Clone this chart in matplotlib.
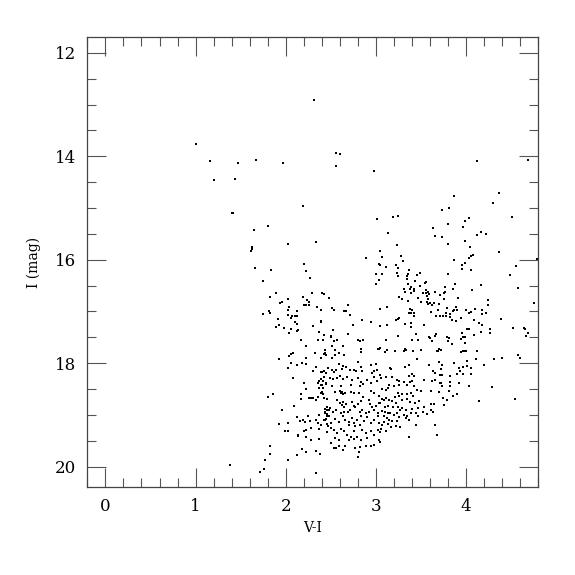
#!/usr/bin/env python

import numpy as np
import matplotlib
matplotlib.use('Agg')
import matplotlib.pyplot as plt
from matplotlib.ticker import MultipleLocator

# (V-I, I), grouped by region
bright = [
	(2.31,12.92),(1.01,13.76),(1.16,14.10),(1.47,14.12),(1.67,14.07),(1.97,14.13),(1.20,14.45),
	(1.44,14.43),(2.19,14.97),(1.40,15.09),(1.41,15.10),(1.80,15.34),(1.65,15.42),(2.03,15.69),
	(1.63,15.75),(1.63,15.79),(1.61,15.84),
	(2.56,13.94),(2.60,13.95),(2.56,14.19),(2.98,14.28),(3.01,15.21),(3.19,15.18),(3.24,15.16),
	(3.13,15.48),(2.34,15.65),(3.23,15.72),(3.04,15.83),(2.89,15.96),(3.07,15.94),(3.28,15.92),
	(4.12,14.09),(4.69,14.07),(4.37,14.70),(3.87,14.77),(4.30,14.91),(3.73,15.03),(3.81,15.00),
	(4.03,15.19),(3.99,15.25),(4.51,15.17),(3.80,15.30),(3.63,15.39),(3.97,15.36),(3.66,15.54),
	(3.73,15.56),(4.12,15.52),(4.17,15.47),(4.22,15.50),(3.99,15.64),(3.80,15.69),(4.04,15.75),
	(4.36,15.85),(4.05,15.92),(4.08,15.90),(4.03,15.97),(3.87,16.00),(4.79,15.98),
]

mid_left = [
	(1.66,16.16),(1.84,16.20),(1.75,16.42),(2.20,16.08),(2.22,16.21),(2.27,16.35),(1.89,16.65),
	(1.83,16.72),(1.96,16.81),(1.94,16.83),(2.03,16.76),(2.19,16.72),(2.29,16.65),(2.40,16.65),
	(2.42,16.66),(2.48,16.74),(2.24,16.78),(2.26,16.81),(2.20,16.88),(2.22,16.87),(2.26,16.87),
	(2.04,16.92),(2.03,16.97),(2.13,16.99),(1.81,16.99),(1.83,17.03),(1.75,17.04),(2.03,17.06),
	(2.07,17.09),(2.10,17.08),(2.12,17.08),(2.06,17.12),(2.35,16.91),(2.39,16.98),(2.51,16.94),
	(2.53,16.98),(1.91,17.15),(2.10,17.20),(2.13,17.24),(2.39,17.18),(2.39,17.20),(1.93,17.27),
	(1.89,17.30),(1.98,17.32),(2.06,17.34),(2.14,17.36),(2.13,17.37),(2.30,17.28),(2.52,17.36),
	(2.04,17.42),(2.37,17.40),(2.42,17.45),(2.50,17.48),(2.50,17.50),(2.17,17.55),(2.36,17.55),
	(2.41,17.56),(2.57,17.55),(2.53,17.58),(2.22,17.66),(2.51,17.67),(2.44,17.74),(2.55,17.74),
	(2.08,17.80),(2.06,17.82),(2.32,17.81),(2.42,17.83),(2.45,17.85),(2.44,17.81),(2.59,17.81),
	(2.55,17.85),(2.04,17.87),(1.93,17.92),(2.23,17.90),(2.39,17.90),(2.51,17.89),
]

mid_centre = [
	(3.30,16.03),(3.03,16.08),(3.05,16.11),(3.11,16.14),(3.22,16.10),(3.24,16.16),(3.37,16.19),
	(3.49,16.25),(3.46,16.30),(3.00,16.27),(3.07,16.27),(3.23,16.26),(3.24,16.32),(3.34,16.32),
	(3.36,16.28),(3.34,16.37),(3.43,16.41),(3.03,16.39),(3.00,16.47),(3.54,16.45),(3.56,16.43),
	(3.36,16.46),(3.49,16.50),(3.39,16.53),(3.42,16.56),(3.31,16.57),(3.32,16.62),(3.38,16.57),
	(3.42,16.60),(3.56,16.58),(3.58,16.62),(3.59,16.66),(3.56,16.64),(3.39,16.64),(3.52,16.64),
	(3.57,16.71),(3.58,16.76),(3.57,16.81),(3.58,16.86),(3.60,16.83),(3.26,16.72),(3.29,16.76),
	(3.47,16.74),(3.50,16.81),(3.36,16.80),(3.61,17.01),(2.69,16.88),(2.65,16.99),(2.67,17.00),
	(2.71,17.07),(3.04,16.96),(3.12,16.92),(3.38,16.95),(3.40,16.98),(3.39,17.02),(3.37,17.03),
	(3.42,17.03),(3.42,17.08),(3.26,17.12),(3.24,17.14),(3.22,17.16),(2.85,17.16),(2.94,17.21),
	(2.75,17.26),(3.04,17.28),(3.12,17.26),(3.32,17.24),(3.39,17.23),(3.39,17.30),(3.53,17.27),
	(2.69,17.44),(3.44,17.43),(3.59,17.49),(3.60,17.52),(3.24,17.47),(2.80,17.55),(2.82,17.58),
	(2.86,17.55),(3.11,17.56),(3.40,17.56),(3.47,17.56),(2.64,17.66),(2.84,17.73),(2.83,17.78),
	(3.03,17.72),(3.04,17.70),(3.02,17.73),(3.12,17.74),(3.10,17.79),(3.21,17.77),(3.32,17.73),
	(3.33,17.74),(3.31,17.77),(3.41,17.76),(3.50,17.74),(2.65,17.84),(3.46,17.91),
]

mid_right = [
	(3.99,16.07),(3.95,16.11),(3.96,16.17),(4.05,16.19),(4.06,16.19),(4.55,16.12),(3.80,16.28),
	(4.49,16.30),(4.17,16.48),(3.88,16.47),(3.86,16.56),(3.77,16.52),(3.77,16.63),(3.75,16.65),
	(3.65,16.62),(3.71,16.69),(4.58,16.54),(4.07,16.59),(3.91,16.73),(3.76,16.76),(3.64,16.83),
	(3.62,16.87),(3.70,16.86),(4.24,16.78),(4.24,16.87),(4.75,16.84),(3.89,16.92),(3.87,16.97),
	(3.90,16.97),(3.85,16.99),(3.79,16.94),(3.78,17.03),(3.82,17.05),(3.69,16.98),(4.00,16.97),
	(4.05,17.01),(4.03,17.03),(4.10,16.95),(4.18,16.98),(4.22,17.02),(4.18,17.05),(3.67,17.08),
	(3.71,17.08),(3.74,17.08),(3.78,17.08),(3.82,17.10),(3.84,17.17),(3.94,17.13),(3.89,17.19),
	(4.09,17.17),(4.14,17.23),(4.18,17.26),(4.39,17.14),(4.27,17.34),(4.27,17.42),(4.17,17.39),
	(4.01,17.33),(4.03,17.34),(3.96,17.41),(4.09,17.45),(3.97,17.50),(3.99,17.50),(3.67,17.44),
	(3.66,17.47),(3.79,17.49),(3.81,17.52),(3.80,17.57),(3.84,17.63),(3.94,17.54),(3.99,17.61),
	(3.62,17.57),(4.52,17.32),(4.64,17.32),(4.65,17.33),(4.69,17.42),(4.66,17.47),(3.70,17.72),
	(3.72,17.74),(3.68,17.76),(3.69,17.77),(3.99,17.76),(4.00,17.76),(3.97,17.76),(3.94,17.79),
	(4.12,17.77),(4.11,17.91),(4.31,17.91),(4.40,17.89),(4.58,17.84),(4.60,17.90),
]

faint_left = [
	(2.06,18.00),(2.02,18.09),(2.13,18.03),(2.18,18.00),(2.23,18.02),(2.33,18.08),(2.30,18.15),
	(2.39,18.17),(2.40,18.17),(2.47,18.10),(2.08,18.29),(2.39,18.30),(2.37,18.34),(2.41,18.35),
	(2.36,18.39),(2.39,18.42),(2.20,18.39),(2.45,18.39),(2.37,18.48),(2.41,18.48),(2.22,18.50),
	(1.86,18.59),(1.80,18.65),(2.17,18.59),(2.17,18.69),(2.39,18.57),(2.41,18.59),(2.26,18.68),
	(2.28,18.68),(2.30,18.67),(2.36,18.66),(2.34,18.72),(2.46,18.69),(2.09,18.83),(2.49,18.86),
	(2.44,18.88),(2.43,18.94),(2.46,18.91),(1.96,18.90),(2.37,19.01),(2.46,18.99),(2.48,19.02),
	(2.12,19.04),(2.25,19.03),(2.16,19.11),(2.19,19.10),(2.21,19.13),(2.27,19.12),(2.34,19.10),
	(2.36,19.15),(2.44,19.10),(2.45,19.08),(2.03,19.16),(1.93,19.17),(2.39,19.19),(2.46,19.17),
	(2.47,19.21),(2.28,19.26),(2.23,19.29),(2.37,19.27),(1.99,19.32),(2.03,19.32),(2.20,19.32),
	(2.46,19.34),(2.14,19.39),(2.14,19.41),(2.23,19.43),(2.28,19.48),(2.37,19.46),(2.18,19.66),
	(2.22,19.71),(2.34,19.70),(2.38,19.76),(2.12,19.78),(1.82,19.61),(1.82,19.76),(1.77,19.87),
	(2.03,19.88),(1.76,20.04),(1.71,20.11),(2.34,20.12),(1.38,19.97),
]

faint_centre = [
	(2.59,18.01),(2.63,18.06),(2.80,17.98),(2.83,18.07),(2.94,18.03),(3.00,18.01),(2.42,18.16),
	(2.45,18.19),(2.51,18.13),(2.53,18.17),(2.56,18.14),(2.62,18.12),(2.67,18.08),(2.71,18.13),
	(2.76,18.14),(2.78,18.15),(2.85,18.15),(2.96,18.19),(2.98,18.16),(3.01,18.14),(3.04,18.23),
	(2.42,18.26),(2.49,18.29),(2.52,18.31),(2.57,18.29),(2.60,18.24),(2.63,18.31),(2.68,18.26),
	(2.73,18.32),(2.80,18.29),(2.83,18.37),(2.90,18.32),(2.98,18.27),(3.01,18.35),(2.40,18.42),
	(2.45,18.40),(2.51,18.45),(2.61,18.44),(2.72,18.42),(2.82,18.44),(2.86,18.40),(2.94,18.39),
	(2.40,18.55),(2.55,18.56),(2.60,18.53),(2.61,18.58),(2.62,18.55),(2.64,18.59),(2.66,18.57),
	(2.72,18.55),(2.76,18.58),(2.81,18.58),(2.86,18.66),(2.94,18.53),(2.98,18.58),(3.03,18.64),
	(2.42,18.68),(2.57,18.72),(2.60,18.77),(2.62,18.81),(2.63,18.76),(2.65,18.84),(2.67,18.79),
	(2.74,18.76),(2.76,18.83),(2.77,18.84),(2.80,18.79),(2.83,18.74),(2.92,18.72),(2.93,18.79),
	(2.96,18.84),(3.00,18.82),(3.03,18.77),(2.46,18.84),(2.48,18.90),(2.44,18.97),(2.52,18.95),
	(2.56,18.90),(2.71,18.90),(2.61,18.97),(2.65,18.95),(2.69,18.95),(2.82,18.94),(2.85,18.90),
	(2.89,18.97),(2.92,18.94),(2.98,18.90),(3.02,18.97),(2.42,19.10),(2.46,19.03),(2.50,19.16),
	(2.55,19.08),(2.59,19.13),(2.63,19.03),(2.66,19.10),(2.70,19.13),(2.74,19.06),(2.76,19.16),
	(2.79,19.10),(2.84,19.03),(2.87,19.12),(2.90,19.05),(2.94,19.15),(2.98,19.10),(3.02,19.03),
	(3.03,19.16),(2.70,19.19),(2.77,19.22),(2.82,19.19),(2.50,19.26),(2.53,19.29),(2.57,19.35),
	(2.61,19.28),(2.65,19.32),(2.68,19.39),(2.72,19.42),(2.76,19.32),(2.79,19.42),(2.85,19.29),
	(2.89,19.35),(2.90,19.45),(2.94,19.32),(2.98,19.39),(3.02,19.29),(2.55,19.45),(2.59,19.48),
	(2.70,19.48),(2.76,19.47),(2.83,19.48),(2.53,19.64),(2.56,19.64),(2.59,19.60),(2.66,19.60),
	(2.77,19.64),(2.82,19.63),(2.81,19.71),(2.80,19.81),(2.89,19.61),(2.94,19.61),(2.98,19.58),
	(2.50,19.55),(2.63,19.68),(3.03,19.48),
]

faint_right = [
	(3.16,18.10),(3.17,18.11),(3.32,18.08),(3.37,18.03),(3.59,18.03),(3.70,17.97),(3.63,18.16),
	(3.66,18.19),(3.71,18.23),(3.40,18.21),(3.37,18.24),(3.42,18.24),(3.11,18.26),(3.06,18.29),
	(3.18,18.27),(3.23,18.32),(3.26,18.34),(3.31,18.37),(3.38,18.37),(3.40,18.34),(3.53,18.32),
	(3.62,18.34),(3.66,18.32),(3.71,18.39),(3.15,18.42),(3.20,18.44),(3.26,18.42),(3.34,18.43),
	(3.42,18.45),(3.46,18.52),(3.50,18.53),(3.07,18.50),(3.11,18.52),(3.13,18.48),(3.61,18.53),
	(3.70,18.55),(3.24,18.58),(3.29,18.59),(3.34,18.59),(3.39,18.57),(3.41,18.63),(3.21,18.66),
	(3.26,18.64),(3.29,18.71),(3.07,18.69),(3.09,18.71),(3.11,18.68),(3.14,18.71),(3.18,18.74),
	(3.22,18.77),(3.35,18.70),(3.38,18.76),(3.43,18.77),(3.48,18.74),(3.53,18.84),(3.61,18.79),
	(3.64,18.79),(3.05,18.77),(3.10,18.84),(3.13,18.83),(3.19,18.84),(3.24,18.85),(3.27,18.90),
	(3.29,18.87),(3.33,18.90),(3.40,18.89),(3.47,18.87),(3.52,18.94),(3.61,18.90),(3.63,18.95),
	(3.07,18.92),(3.10,18.94),(3.13,18.97),(3.16,18.97),(3.20,19.00),(3.23,18.97),(3.26,19.04),
	(3.31,19.00),(3.34,19.03),(3.39,18.97),(3.45,18.97),(3.47,19.02),(3.57,18.98),(3.09,19.03),
	(3.12,19.06),(3.14,19.10),(3.18,19.11),(3.23,19.11),(3.33,19.06),(3.37,19.10),(3.09,19.13),
	(3.07,19.19),(3.13,19.18),(3.17,19.23),(3.22,19.21),(3.27,19.23),(3.45,19.19),(3.66,19.19),
	(3.11,19.32),(3.06,19.28),(3.05,19.34),(3.37,19.42),(3.68,19.39),(3.05,19.52),
	(3.73,18.03),(3.72,18.12),(3.73,18.23),(3.87,17.99),(3.92,18.10),(3.93,18.15),(3.97,18.08),
	(4.01,18.06),(4.06,18.09),(4.01,17.96),(3.97,18.21),(3.90,18.21),(4.05,18.21),(4.20,18.03),
	(3.82,18.24),(3.82,18.37),(3.92,18.39),(3.72,18.39),(3.73,18.45),(3.82,18.45),(4.03,18.45),
	(4.29,18.46),(3.81,18.53),(3.90,18.59),(3.85,18.63),(3.74,18.68),(3.79,18.72),(3.75,18.81),
	(4.14,18.74),(4.54,18.70),
]

groups = [bright, mid_left, mid_centre, mid_right, faint_left, faint_centre, faint_right]
stars = np.array([p for g in groups for p in g])
vi = stars[:,0]
imag = stars[:,1]

plt.rcParams['font.family'] = ['DejaVu Serif']

fig = plt.figure(figsize=(5.75,5.75), dpi=100)
ax = fig.add_axes([0.152, 0.1525, 0.784, 0.7825])

ax.scatter(vi, imag, s=2.5, c='black', marker='s', linewidths=0)

ax.set_xlim(-0.2, 4.8)
ax.set_ylim(20.4, 11.7)

ax.xaxis.set_major_locator(MultipleLocator(1))
ax.xaxis.set_minor_locator(MultipleLocator(0.2))
ax.yaxis.set_major_locator(MultipleLocator(2))
ax.yaxis.set_minor_locator(MultipleLocator(0.5))

ax.tick_params(which='both', direction='in', top=True, right=True, color='#555555', width=0.8)
ax.tick_params(which='major', length=13.5, labelsize=12, pad=8)
ax.tick_params(which='minor', length=6.5)
for sp in ax.spines.values():
	sp.set_color('#444444')
	sp.set_linewidth(0.9)

ax.set_xlabel('V-I', fontsize=10, labelpad=4)
ax.set_ylabel('I (mag)', fontsize=10, labelpad=10)

fig.savefig('out.png', dpi=100)
